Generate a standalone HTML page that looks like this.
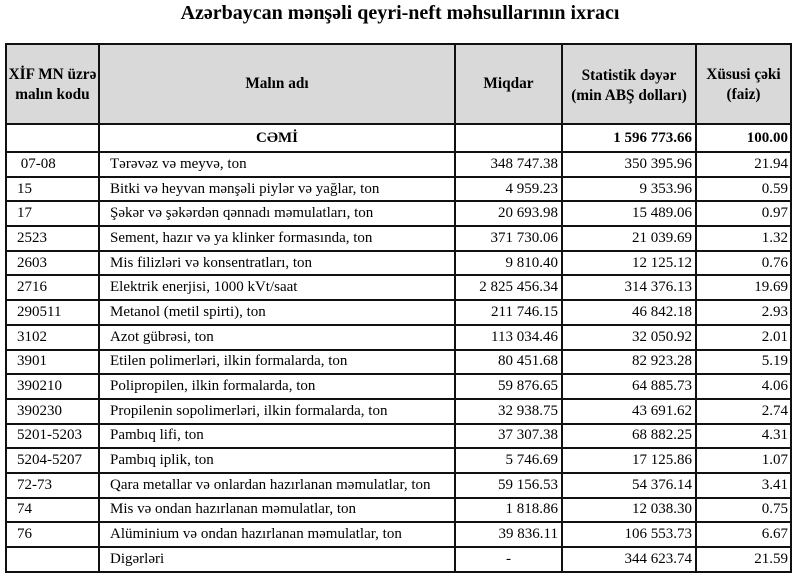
<!DOCTYPE html>
<html>
<head>
<meta charset="utf-8">
<style>
  html, body { margin:0; padding:0; background:#fff; }
  body { width:800px; height:577px; position:relative; overflow:hidden;
         font-family:"Liberation Serif", "DejaVu Serif", serif; color:#000; }
  .title { position:absolute; left:0; top:2px; width:800px; text-align:center;
           font-weight:bold; font-size:20px; line-height:22px; }
  .grid { position:absolute; left:5px; top:43px;
          border-top:2px solid #111; border-left:2px solid #111;
          display:grid;
          grid-template-columns: 93px 356px 107px 134px 95px;
          grid-template-rows: 80px 28px repeat(17, 24.7px); }
  .grid > div { box-sizing:border-box; border-right:2px solid #111; border-bottom:2px solid #111;
                display:flex; align-items:center; font-size:15px; white-space:nowrap; overflow:hidden; }
  .grid > div.h { background:#d9d9d9; font-weight:bold; justify-content:center; text-align:center; line-height:20px; font-size:15.3px; }
  .c { padding-left:10px; }
  .n { padding-left:10px; }
  .r { justify-content:flex-end; padding-right:3px; }
  .r2 { justify-content:flex-end; padding-right:2px; }
  .ctr { justify-content:center; }
  .b { font-weight:bold; }
</style>
</head>
<body>
<div class="title">Azərbaycan mənşəli qeyri-neft məhsullarının ixracı</div>
<div class="grid">
  <div class="h" style="padding-top:2px;">XİF MN üzrə<br>malın kodu</div>
  <div class="h">Malın adı</div>
  <div class="h">Miqdar</div>
  <div class="h" style="padding-top:4px;">Statistik dəyər<br>(min ABŞ dolları)</div>
  <div class="h" style="padding-top:2px;">Xüsusi çəki<br>(faiz)</div>

  <div></div>
  <div class="ctr b">CƏMİ</div>
  <div></div>
  <div class="r b">1 596 773.66</div>
  <div class="r2 b">100.00</div>

  <div class="c">&nbsp;07-08</div><div class="n">Tərəvəz və meyvə, ton</div><div class="r">348 747.38</div><div class="r">350 395.96</div><div class="r2">21.94</div>
  <div class="c">15</div><div class="n">Bitki və heyvan mənşəli piylər və yağlar, ton</div><div class="r">4 959.23</div><div class="r">9 353.96</div><div class="r2">0.59</div>
  <div class="c">17</div><div class="n">Şəkər və şəkərdən qənnadı məmulatları, ton</div><div class="r">20 693.98</div><div class="r">15 489.06</div><div class="r2">0.97</div>
  <div class="c">2523</div><div class="n">Sement, hazır və ya klinker formasında, ton</div><div class="r">371 730.06</div><div class="r">21 039.69</div><div class="r2">1.32</div>
  <div class="c">2603</div><div class="n">Mis filizləri və konsentratları, ton</div><div class="r">9 810.40</div><div class="r">12 125.12</div><div class="r2">0.76</div>
  <div class="c">2716</div><div class="n">Elektrik enerjisi, 1000 kVt/saat</div><div class="r">2 825 456.34</div><div class="r">314 376.13</div><div class="r2">19.69</div>
  <div class="c">290511</div><div class="n">Metanol (metil spirti), ton</div><div class="r">211 746.15</div><div class="r">46 842.18</div><div class="r2">2.93</div>
  <div class="c">3102</div><div class="n">Azot gübrəsi, ton</div><div class="r">113 034.46</div><div class="r">32 050.92</div><div class="r2">2.01</div>
  <div class="c">3901</div><div class="n">Etilen polimerləri, ilkin formalarda, ton</div><div class="r">80 451.68</div><div class="r">82 923.28</div><div class="r2">5.19</div>
  <div class="c">390210</div><div class="n">Polipropilen, ilkin formalarda, ton</div><div class="r">59 876.65</div><div class="r">64 885.73</div><div class="r2">4.06</div>
  <div class="c">390230</div><div class="n">Propilenin sopolimerləri, ilkin formalarda, ton</div><div class="r">32 938.75</div><div class="r">43 691.62</div><div class="r2">2.74</div>
  <div class="c">5201-5203</div><div class="n">Pambıq lifi, ton</div><div class="r">37 307.38</div><div class="r">68 882.25</div><div class="r2">4.31</div>
  <div class="c">5204-5207</div><div class="n">Pambıq iplik, ton</div><div class="r">5 746.69</div><div class="r">17 125.86</div><div class="r2">1.07</div>
  <div class="c">72-73</div><div class="n">Qara metallar və onlardan hazırlanan məmulatlar, ton</div><div class="r">59 156.53</div><div class="r">54 376.14</div><div class="r2">3.41</div>
  <div class="c">74</div><div class="n">Mis və ondan hazırlanan məmulatlar, ton</div><div class="r">1 818.86</div><div class="r">12 038.30</div><div class="r2">0.75</div>
  <div class="c">76</div><div class="n">Alüminium və ondan hazırlanan məmulatlar, ton</div><div class="r">39 836.11</div><div class="r">106 553.73</div><div class="r2">6.67</div>
  <div class="c"></div><div class="n">Digərləri</div><div class="ctr">-</div><div class="r">344 623.74</div><div class="r2">21.59</div>
</div>
</body>
</html>
